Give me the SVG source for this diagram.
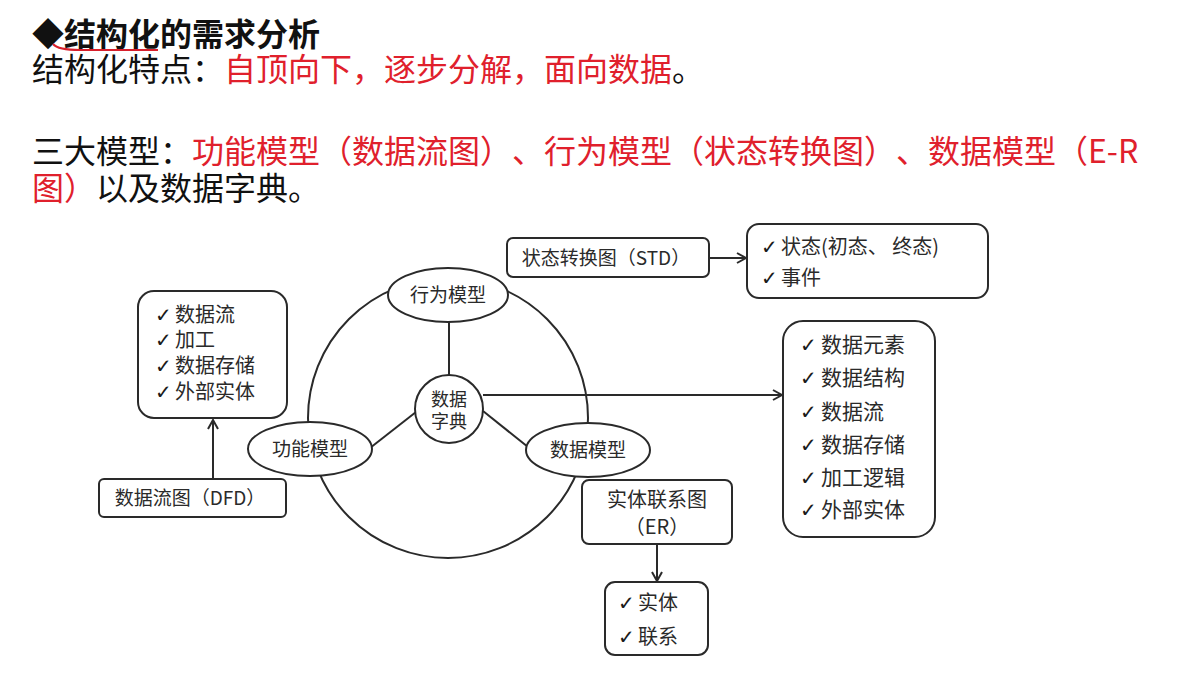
<svg xmlns="http://www.w3.org/2000/svg" width="1191" height="675" viewBox="0 0 1191 675">
<defs>
<style>
text{text-spacing-trim:space-all;}
.t{font-family:"Noto Sans CJK SC","Noto Sans",sans-serif;}
.h{font-size:32px;fill:#111;}
.r{fill:#e0202c;}
.b{font-weight:bold;}
.box{fill:#fff;stroke:#2a2a2a;stroke-width:2;}
.ln{stroke:#2a2a2a;stroke-width:2;fill:none;}
.lbl{font-size:19px;fill:#2a2a2a;}
.item{font-size:20px;fill:#2a2a2a;}
.ck{font-family:"DejaVu Sans",sans-serif;font-size:20px;font-weight:bold;fill:#1a1a1a;}
</style>
<marker id="arr" markerWidth="12" markerHeight="12" refX="10" refY="6" orient="auto" markerUnits="userSpaceOnUse">
<path d="M1,1 L10,6 L1,11" fill="none" stroke="#2a2a2a" stroke-width="2"/>
</marker>
</defs>
<rect width="1191" height="675" fill="#fff"/>

<g id="header">
<text class="t h b" x="32" y="46">◆结构化的需求分析</text>
<path d="M53,44 Q58,50 80,50 L158,50" fill="none" stroke="#d8202c" stroke-width="2"/>
<text class="t h" x="32" y="81">结构化特点：<tspan class="r">自顶向下，逐步分解，面向数据</tspan>。</text>
<text class="t h" x="32" y="163">三大模型：<tspan class="r">功能模型（数据流图）、行为模型（状态转换图）、数据模型（E-R</tspan></text>
<text class="t h" x="32" y="200"><tspan class="r">图）</tspan>以及数据字典。</text>
</g>

<g id="connectors">
<ellipse class="ln" cx="448" cy="418" rx="140" ry="140"/>
<line class="ln" x1="449" y1="322" x2="449" y2="376"/>
<line class="ln" x1="416" y1="412" x2="370" y2="448"/>
<line class="ln" x1="483" y1="411" x2="528" y2="447"/>
<line class="ln" x1="483" y1="395" x2="782" y2="395" marker-end="url(#arr)"/>
<line class="ln" x1="213" y1="478" x2="213" y2="420" marker-end="url(#arr)"/>
<line class="ln" x1="709" y1="258" x2="746" y2="258" marker-end="url(#arr)"/>
<line class="ln" x1="657" y1="545" x2="657" y2="581" marker-end="url(#arr)"/>
</g>

<g id="behavior-model">
<ellipse class="box" cx="448" cy="295" rx="60" ry="27"/>
<text class="t lbl" x="448" y="302" text-anchor="middle">行为模型</text>
</g>

<g id="function-model">
<ellipse class="box" cx="310" cy="449" rx="62" ry="27"/>
<text class="t lbl" x="310" y="456" text-anchor="middle">功能模型</text>
</g>

<g id="data-model">
<ellipse class="box" cx="588" cy="450" rx="62" ry="27"/>
<text class="t lbl" x="588" y="457" text-anchor="middle">数据模型</text>
</g>

<g id="data-dictionary">
<circle class="box" cx="449" cy="409" r="34"/>
<text class="t lbl" x="449" y="406" text-anchor="middle" style="font-size:18px">数据</text>
<text class="t lbl" x="449" y="428" text-anchor="middle" style="font-size:18px">字典</text>
</g>

<g id="dfd-list">
<rect class="box" x="138" y="291" width="149" height="127" rx="16"/>
<text class="ck" x="155" y="322">✓</text><text class="t item" x="175" y="322">数据流</text>
<text class="ck" x="155" y="347">✓</text><text class="t item" x="175" y="347">加工</text>
<text class="ck" x="155" y="373">✓</text><text class="t item" x="175" y="373">数据存储</text>
<text class="ck" x="155" y="399">✓</text><text class="t item" x="175" y="399">外部实体</text>
</g>

<g id="dfd">
<rect class="box" x="99" y="479" width="187" height="38" rx="5"/>
<text class="t lbl" x="190" y="505" text-anchor="middle">数据流图（DFD）</text>
</g>

<g id="std">
<rect class="box" x="507" y="238" width="202" height="39" rx="6"/>
<text class="t lbl" x="606" y="265" text-anchor="middle">状态转换图（STD）</text>
</g>

<g id="std-list">
<rect class="box" x="747" y="224" width="241" height="74" rx="12"/>
<text class="ck" x="761" y="254">✓</text><text class="t item" x="781" y="254">状态(初态、 终态)</text>
<text class="ck" x="761" y="285">✓</text><text class="t item" x="781" y="285">事件</text>
</g>

<g id="dd-list">
<rect class="box" x="783" y="321" width="152" height="216" rx="20"/>
<text class="ck" x="800" y="352">✓</text><text class="t item" x="821" y="352" style="font-size:21px">数据元素</text>
<text class="ck" x="800" y="385">✓</text><text class="t item" x="821" y="385" style="font-size:21px">数据结构</text>
<text class="ck" x="800" y="419">✓</text><text class="t item" x="821" y="419" style="font-size:21px">数据流</text>
<text class="ck" x="800" y="452">✓</text><text class="t item" x="821" y="452" style="font-size:21px">数据存储</text>
<text class="ck" x="800" y="485">✓</text><text class="t item" x="821" y="485" style="font-size:21px">加工逻辑</text>
<text class="ck" x="800" y="517">✓</text><text class="t item" x="821" y="517" style="font-size:21px">外部实体</text>
</g>

<g id="er">
<rect class="box" x="582" y="480" width="150" height="64" rx="7"/>
<text class="t lbl" x="657" y="507" text-anchor="middle" style="font-size:20px">实体联系图</text>
<text class="t lbl" x="657" y="534" text-anchor="middle" style="font-size:20px">（ER）</text>
</g>

<g id="er-list">
<rect class="box" x="605" y="582" width="103" height="73" rx="10"/>
<text class="ck" x="618" y="610">✓</text><text class="t item" x="638" y="610">实体</text>
<text class="ck" x="618" y="644">✓</text><text class="t item" x="638" y="644">联系</text>
</g>
</svg>
